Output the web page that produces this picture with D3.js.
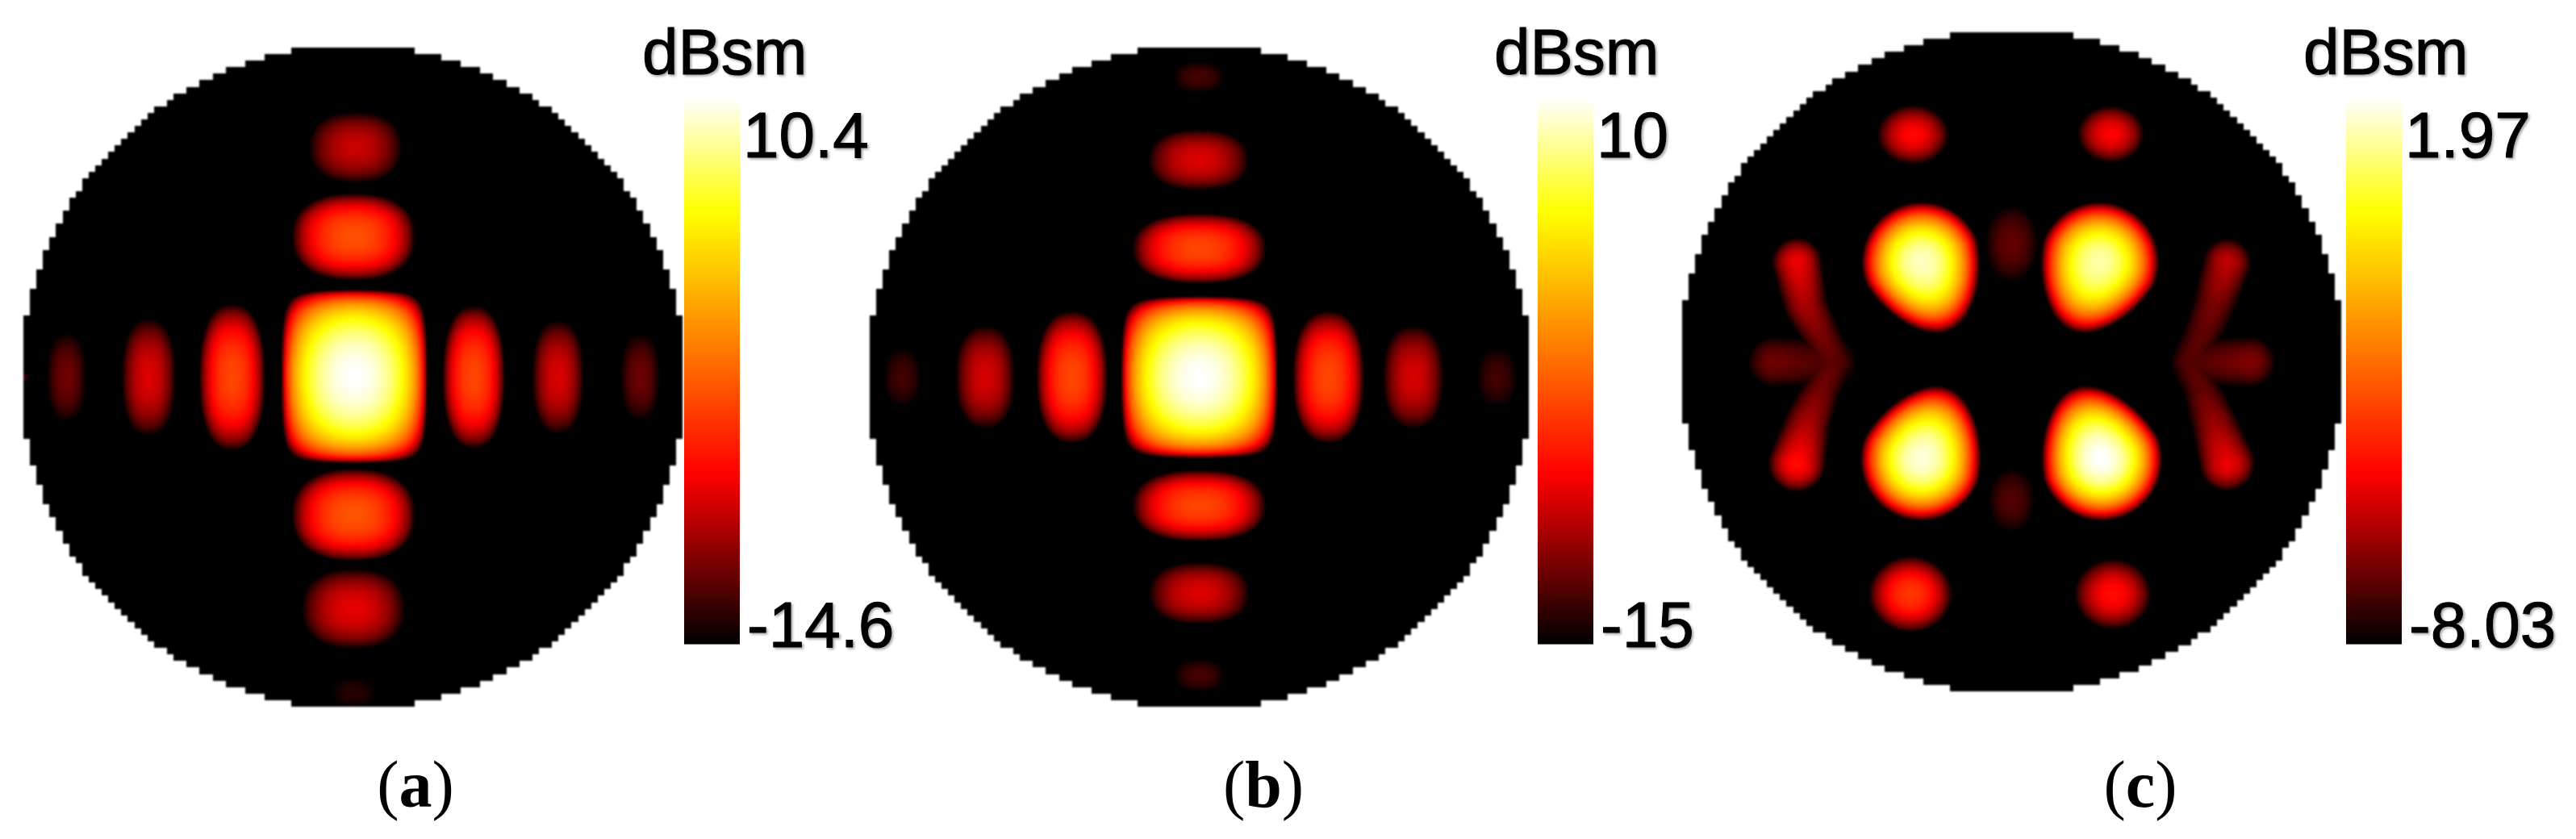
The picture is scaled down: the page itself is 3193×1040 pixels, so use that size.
<!DOCTYPE html>
<html><head><meta charset="utf-8">
<style>
html,body{margin:0;padding:0;background:#fff;}
#root{position:relative;width:3193px;height:1040px;overflow:hidden;background:#fff;}
canvas{position:absolute;filter:blur(0.9px);}
svg{position:absolute;left:0;top:0;}
.lab{font-family:"Liberation Sans",Arial,sans-serif;font-size:80px;fill:#000;stroke:#000;stroke-width:1.1px;filter:drop-shadow(2px 2px 1.5px rgba(0,0,0,.35)) blur(.7px);}
.cap{font-family:"Liberation Serif",serif;font-size:82px;fill:#000;filter:blur(.5px);}
</style>
<script src="https://cdn.jsdelivr.net/npm/d3@7/dist/d3.min.js"></script>
</head><body><div id="root"></div>
<script>
// Lobes: [x, y, visible half-width x, visible half-width y, peak dBsm]; x,y in grid cells from the panel centre
const lobesA = [
 [0.2,-0.1,11.2,13.3,10.4],[0.4,-35.2,7.2,5.5,-8.5],[0.1,-21.5,9.5,6.7,-3.1],[0.1,21.1,9.5,7.1,-2.9],
 [0.1,35.5,8,6.2,-7.6],[0.1,48.3,3.7,2.5,-13.4],[-18.5,0,5.1,11.3,-3.6],[-31.3,0,4.2,9.1,-7.9],
 [-43.9,0,3.1,7,-11.25],[-50.2,0,0.6,0.8,-13],[18.5,0,4.8,11,-3.6],[31.4,0,4,8.8,-8.0],[44.0,0,3.1,6.9,-11.3]
];
const lobesB = [
 [0,0,12,12.4,10],[-0.1,-46,4.1,2.5,-12.9],[-0.1,-33.3,7.8,4.7,-8.3],[0,-19.7,10.3,5.4,-4],[0,19.7,10.3,5.5,-4],
 [0,33.1,7.8,4.8,-8.3],[0,45.7,4.1,2.6,-12.9],[-19.5,0,5.5,10.2,-4],[-32.8,0,4.6,8,-8.5],[-45.5,0,3,4.7,-13],
 [19.8,0,5.5,10.2,-4],[32.8,0,4.7,8,-8.5],[45.6,0,3.2,4.7,-13]
];
const lobesC = [
 [-15.1,-34.8,5.7,4.7,-4.83],[15.2,-34.9,5.3,4.5,-4.93],[-15.5,35.6,6.6,6,-3.93],[15.5,35.6,6.1,5.6,-4.73],
 [0,-18.1,4.5,6.5,-6.83],[0,21.2,4,5.5,-7.03]
];
// Egg-shaped main lobes of panel c: [x, y, axis x, axis y, forward reach, back reach, side reach, peak dBsm]
const eggsC = [
 [-13.8,-15.3,0.37,0.93,11.5,9.3,9.3,1.47],
 [13.4,-15.3,-0.37,0.93,11.5,9.3,9.3,1.27],
 [-13.8,14.9,0.35,-0.94,11.8,9.6,9.5,1.67],
 [13.7,14.9,-0.35,-0.94,11.8,9.6,9.5,1.97]
];
// Ridges of panel c: [x, y, visible half-width, level dBsm] along each feature
const wingLeft  = [[-32.9,-15.2,4,-5.13],[-31.6,-8.7,3.6,-6.0],[-29.1,-3.8,3.2,-6.6],[-27.2,0,3.4,-6.9],[-29.1,4.0,3.2,-6.7],[-31.3,9.3,3.8,-6.0],[-32.9,15.5,4.6,-4.73]];
const prongLeft = [[-36.5,0,4.2,-6.7],[-27.2,0,4,-7.2]];
const wingRight = [[33,-15.2,3.9,-5.7],[31,-8.7,3.6,-6.6],[29,-3.8,3.2,-6.9],[27.2,0,3.2,-7.0],[29,4,3.2,-6.9],[31,9.3,3.8,-6.2],[33,15.5,4.5,-5.13]];
const prongRight= [[36.5,0,4.2,-6.5],[28,0,4,-7.1]];
const rangeA = [-14.6,10.4], rangeB = [-15,10], rangeC = [-8.03,1.97];
const tickLabelsA = ["10.4","-14.6"], tickLabelsB = ["10","-15"], tickLabelsC = ["1.97","-8.03"];
const captionLetters = ["a","b","c"];
const unitLabel = "dBsm";
const colorStops = [0,0.31,0.79,1];
const colorValues = ["#000000","#ff0000","#ffff00","#ffffff"];

const panels = [
 {lobes:lobesA,eggs:[],ridges:[],exp:2.4,range:rangeA,ticks:tickLabelsA,letter:captionLetters[0],cx:437.5,cy:467.5,bar:848,unit:800,cap:515},
 {lobes:lobesB,eggs:[],ridges:[],exp:2.4,range:rangeB,ticks:tickLabelsB,letter:captionLetters[1],cx:1486.5,cy:467.5,bar:1906,unit:1856,cap:1566},
 {lobes:lobesC,eggs:eggsC,ridges:[wingLeft,prongLeft,wingRight,prongRight],exp:2,range:rangeC,ticks:tickLabelsC,letter:captionLetters[2],cx:2493.5,cy:448.5,bar:2908,unit:2859,cap:2653}
];
const barW=69, barTop=120, barBottom=798, cell=8.09, half=50.5, maskR2=2590;
const root=d3.select("#root");
const svg=root.append("svg").attr("width",3193).attr("height",1040);
const ramp=d3.scaleLinear().domain(colorStops).range(colorValues).interpolate(d3.interpolateRgb).clamp(true);
const lut=d3.range(1024).map(i=>{const c=d3.rgb(ramp(i/1023));return [c.r,c.g,c.b];});
const nullFrac=(level,min)=>2/Math.PI*Math.acos(Math.pow(10,-(level-min+0.3)/20));

panels.forEach(p=>{
  const size=Math.round(2*half*cell);
  const x=d3.scaleLinear().domain([-half,half]).range([0,size]);
  const y=d3.scaleLinear().domain([-half,half]).range([0,size]);
  const t=d3.scaleLinear().domain(p.range).range([0,1]).clamp(true);
  const min=p.range[0];
  const field=new Float32Array(size*size).fill(min);
  p.lobes.forEach(([lx,ly,hx,hy,peak])=>{
    const frac=nullFrac(peak,min);
    const wx=hx/frac, wy=hy/frac;
    const squarish = p.exp>2 && peak===p.range[1];
    const x0=Math.max(0,Math.floor(x(lx-wx))),x1=Math.min(size-1,Math.ceil(x(lx+wx)));
    const y0=Math.max(0,Math.floor(y(ly-wy))),y1=Math.min(size-1,Math.ceil(y(ly+wy)));
    for(let j=y0;j<=y1;j++){
      const ny=Math.abs((y.invert(j+.5)-ly)/wy);
      for(let i=x0;i<=x1;i++){
        const nx=Math.abs((x.invert(i+.5)-lx)/wx);
        if(nx>=1||ny>=1)continue;
        let c;
        if(squarish){c=Math.cos(Math.PI/2*nx)*Math.cos(Math.PI/2*ny);}
        else {const d=Math.pow(Math.pow(nx,p.exp)+Math.pow(ny,p.exp),1/p.exp); if(d>=1)continue; c=Math.cos(Math.PI/2*d);}
        const v=peak+20*Math.log10(c);
        const k=j*size+i;
        if(v>field[k])field[k]=v;
      }
    }
  });
  p.eggs.forEach(([ex,ey,ax,ay,fwd,back,side,peak])=>{
    const frac=nullFrac(peak,min);
    const reach=Math.max(fwd,back,side)/frac;
    const x0=Math.max(0,Math.floor(x(ex-reach))),x1=Math.min(size-1,Math.ceil(x(ex+reach)));
    const y0=Math.max(0,Math.floor(y(ey-reach))),y1=Math.min(size-1,Math.ceil(y(ey+reach)));
    for(let j=y0;j<=y1;j++){
      const dy=y.invert(j+.5)-ey;
      for(let i=x0;i<=x1;i++){
        const dx=x.invert(i+.5)-ex;
        const along=dx*ax+dy*ay, lat=-dx*ay+dy*ax;
        const na=along/((along>0?fwd:back)/frac);
        const taper=1-0.25*Math.max(0,along/(fwd/frac));
        const nl=lat/(side*taper/frac);
        const d=Math.hypot(na,nl);
        if(d>=1)continue;
        const v=peak+20*Math.log10(Math.cos(Math.PI/2*d));
        const k=j*size+i;
        if(v>field[k])field[k]=v;
      }
    }
  });
  p.ridges.forEach(r=>{
    d3.pairs(r).forEach(([a,b])=>{
      const pad=Math.max(a[2],b[2])*2;
      const x0=Math.max(0,Math.floor(x(Math.min(a[0],b[0])-pad))),x1=Math.min(size-1,Math.ceil(x(Math.max(a[0],b[0])+pad)));
      const y0=Math.max(0,Math.floor(y(Math.min(a[1],b[1])-pad))),y1=Math.min(size-1,Math.ceil(y(Math.max(a[1],b[1])+pad)));
      const ux=b[0]-a[0],uy=b[1]-a[1],uu=ux*ux+uy*uy;
      for(let j=y0;j<=y1;j++){
        const py=y.invert(j+.5);
        for(let i=x0;i<=x1;i++){
          const px=x.invert(i+.5);
          const s=Math.max(0,Math.min(1,((px-a[0])*ux+(py-a[1])*uy)/uu));
          const d=Math.hypot(px-a[0]-s*ux,py-a[1]-s*uy);
          const hw=a[2]+s*(b[2]-a[2]), lv=a[3]+s*(b[3]-a[3]);
          const w=hw/nullFrac(lv,min);
          if(d>=w)continue;
          const v=lv+20*Math.log10(Math.cos(Math.PI/2*d/w));
          const k=j*size+i;
          if(v>field[k])field[k]=v;
        }
      }
    });
  });
  const canvas=root.append("canvas").attr("width",size).attr("height",size)
    .style("left",(p.cx-size/2)+"px").style("top",(p.cy-size/2)+"px").node();
  const ctx=canvas.getContext("2d");
  const img=ctx.createImageData(size,size);
  for(let j=0;j<size;j++){
    const gj=Math.round(y.invert(j+.5));
    for(let i=0;i<size;i++){
      const gi=Math.round(x.invert(i+.5));
      const k=(j*size+i), o=k*4;
      if(gi*gi+gj*gj>maskR2){img.data[o+3]=0;continue;}
      const c=lut[Math.round(t(field[k])*1023)];
      img.data[o]=c[0];img.data[o+1]=c[1];img.data[o+2]=c[2];img.data[o+3]=255;
    }
  }
  ctx.putImageData(img,0,0);

  // colour bar
  const by=d3.scaleLinear().domain(p.range).range([barBottom,barTop]);
  const steps=d3.range(0,339).map(i=>p.range[0]+(p.range[1]-p.range[0])*i/339);
  const dv=(p.range[1]-p.range[0])/339;
  svg.append("g").selectAll("rect").data(steps).join("rect")
    .attr("x",p.bar).attr("width",barW)
    .attr("y",d=>by(d+dv)).attr("height",d=>by(d)-by(d+dv)+0.6)
    .attr("fill",d=>ramp(t(d+dv/2)));
  svg.append("text").attr("class","lab").attr("x",p.unit-4).attr("y",92).text(unitLabel);
  svg.append("text").attr("class","lab").attr("x",p.bar+barW+4).attr("y",195).text(p.ticks[0]);
  svg.append("text").attr("class","lab").attr("x",p.bar+barW+9).attr("y",802).text(p.ticks[1]);
  const cap=svg.append("text").attr("class","cap").attr("x",p.cap).attr("y",1000).attr("text-anchor","middle");
  cap.append("tspan").text("(");
  cap.append("tspan").attr("font-weight","bold").text(p.letter);
  cap.append("tspan").text(")");
});
</script></body></html>
